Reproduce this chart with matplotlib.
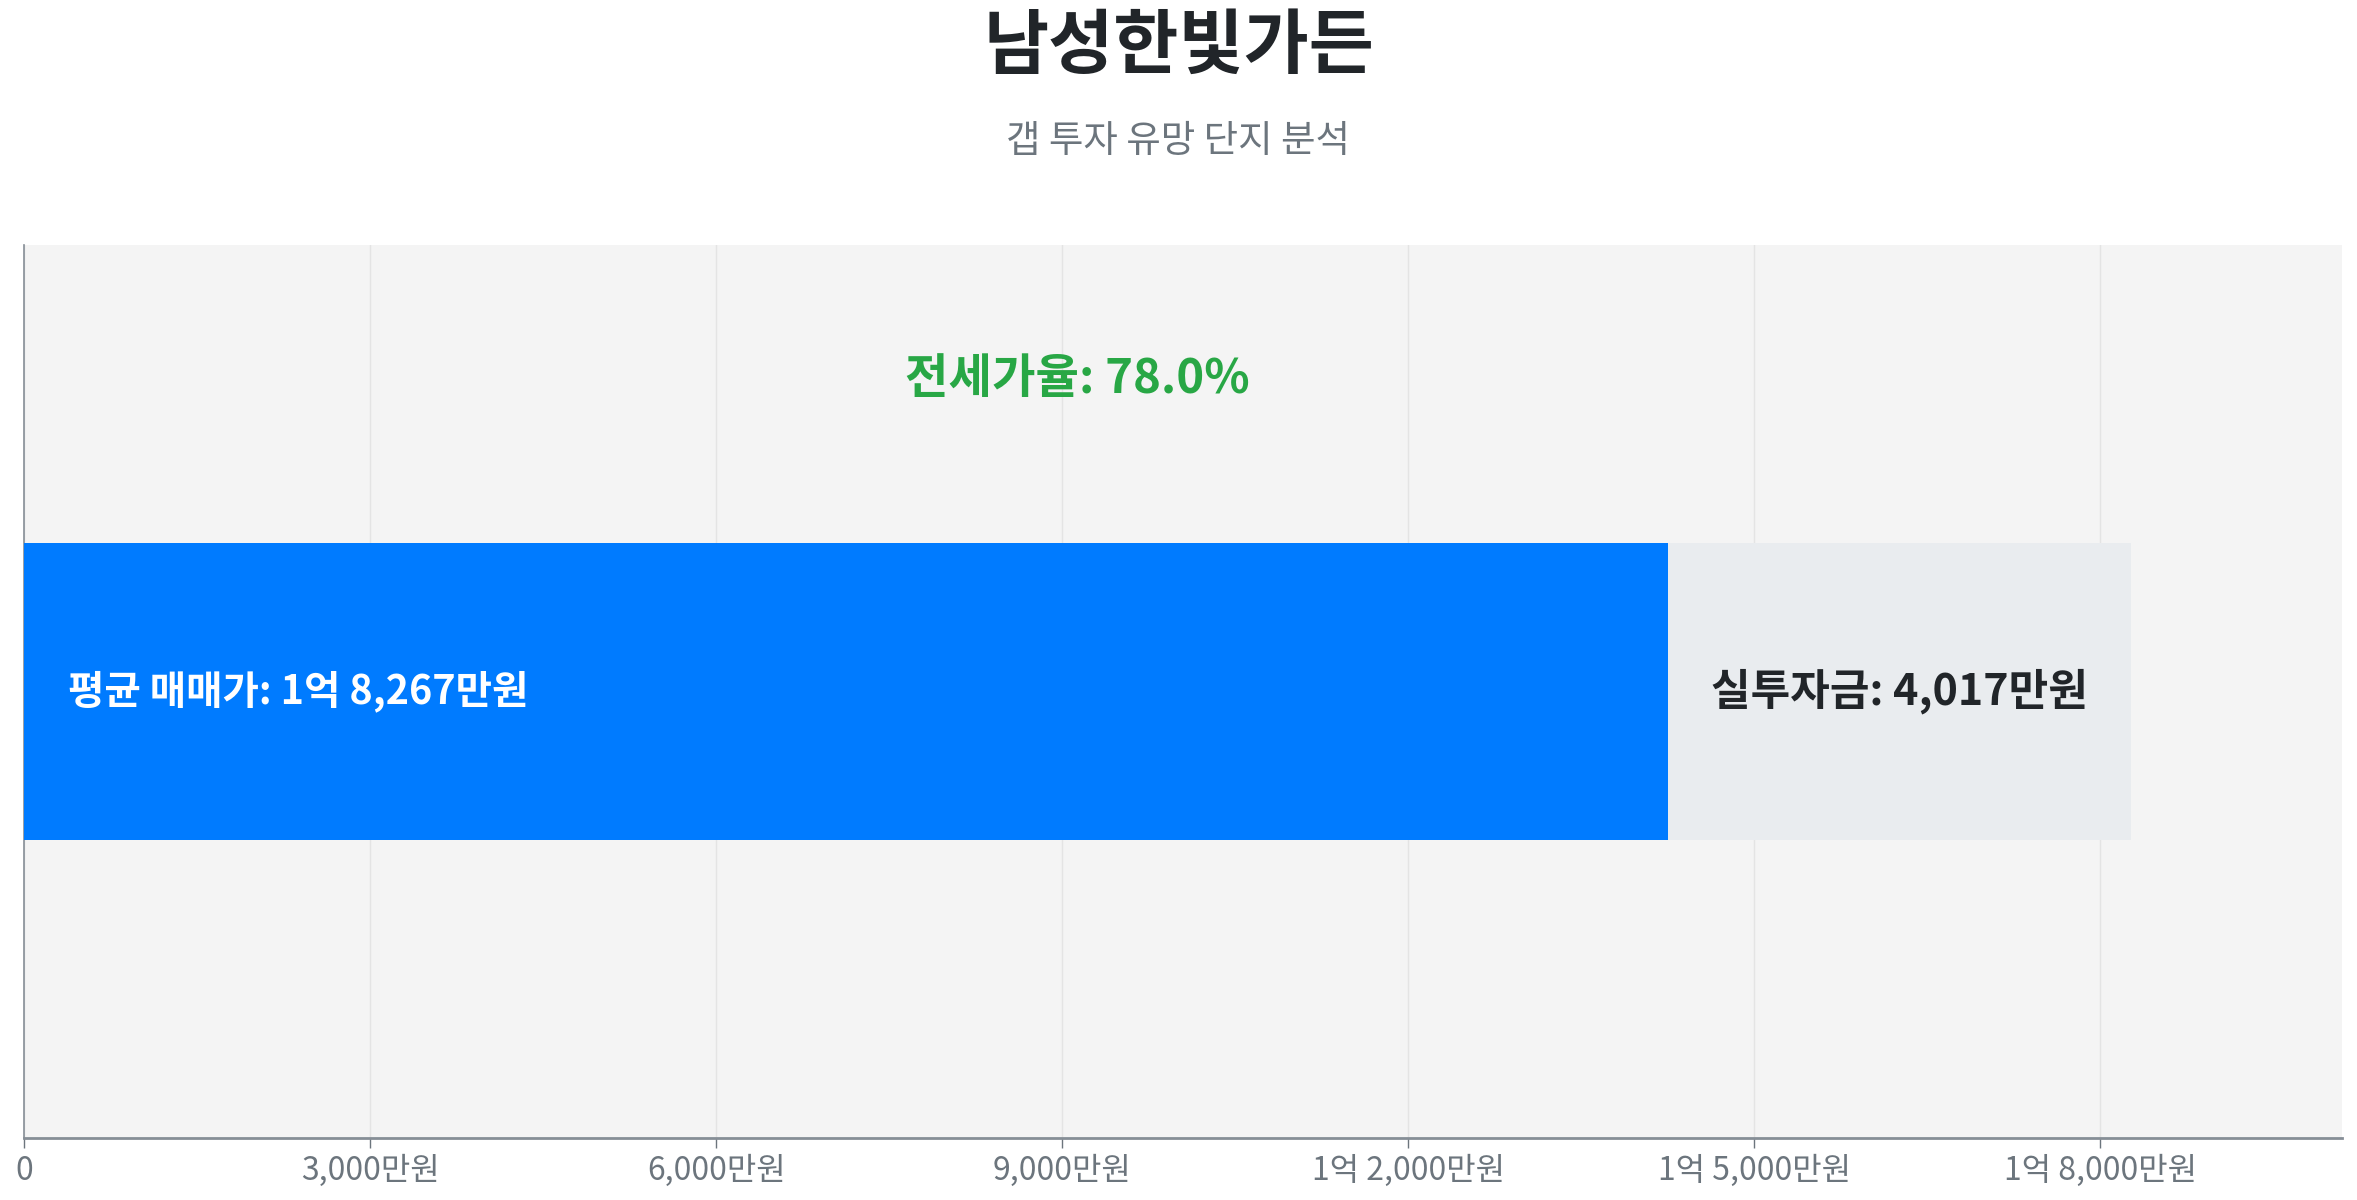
import matplotlib
matplotlib.use("Agg")
import matplotlib.pyplot as plt
from matplotlib.ticker import FuncFormatter

plt.rcParams['font.family'] = ['Noto Sans CJK KR', 'DejaVu Sans']

title = "남성한빛가든"
subtitle = "갭 투자 유망 단지 분석"
avg_price = 18267      # 만원
investment = 4017      # 만원
jeonse = avg_price - investment
ratio = jeonse / avg_price * 100
xticks = [0, 3000, 6000, 9000, 12000, 15000, 18000]

def fmt_won(v):
    v = int(round(v))
    if v == 0:
        return "0"
    eok, man = divmod(v, 10000)
    if eok > 0:
        return f"{eok}억 {man:,}만원" if man else f"{eok}억"
    return f"{man:,}만원"

fig = plt.figure(figsize=(23.57, 12), dpi=100)
ax = fig.add_axes([0.0102, 0.0517, 0.9834, 0.7443])
ax.set_facecolor('#f4f4f4')

ax.barh([0], [jeonse], height=1.0, color='#007bff', zorder=3)
ax.barh([0], [investment], left=[jeonse], height=1.0, color='#e9ecef', zorder=3)

ax.set_xlim(0, avg_price * 1.1)
ax.set_ylim(-1.5, 1.5)
ax.set_yticks([])
ax.set_xticks(xticks)
ax.xaxis.set_major_formatter(FuncFormatter(lambda v, p: fmt_won(v)))
ax.tick_params(axis='x', labelsize=23, colors='#6c757d', length=7, width=1, pad=5)
ax.grid(axis='x', color='#e4e4e4', linewidth=1, zorder=0)
for s in ['top', 'right']:
    ax.spines[s].set_visible(False)
for s in ['left', 'bottom']:
    ax.spines[s].set_color('#868e96')
ax.spines['left'].set_linewidth(1.2)
ax.spines['bottom'].set_linewidth(2)

ax.text(avg_price * 0.021, 0, f"평균 매매가: {fmt_won(avg_price)}", ha='left', va='center',
        fontsize=28.5, fontweight='bold', color='white', zorder=4)
ax.text(jeonse + investment / 2, 0, f"실투자금: {fmt_won(investment)}", ha='center', va='center',
        fontsize=31, fontweight='bold', color='#212529', zorder=4)
ax.text(avg_price / 2, 1.05, f"전세가율: {ratio:.1f}%", ha='center', va='center',
        fontsize=34, fontweight='bold', color='#28a745', zorder=4)

fig.text(0.5, 0.961, title, ha='center', va='center', fontsize=51, fontweight='bold', color='#212529')
fig.text(0.5, 0.882, subtitle, ha='center', va='center', fontsize=27, color='#6c757d')

fig.savefig('out.png', dpi=100, facecolor='white')
